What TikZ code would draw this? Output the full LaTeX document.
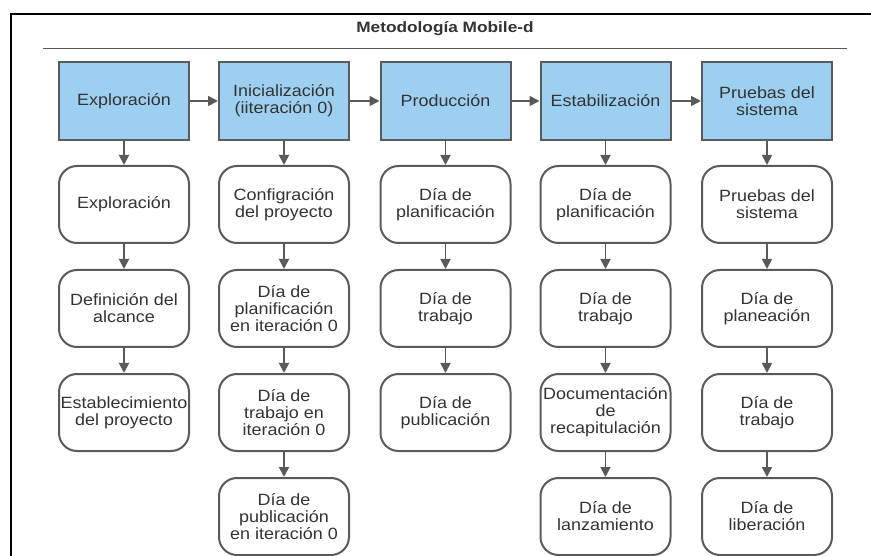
\documentclass[tikz,border=0pt]{standalone}
\usepackage{fontspec}
\setmainfont{Liberation Sans}[FakeStretch=1.1]
\newfontfamily\titlefont{Liberation Sans}[FakeStretch=1.15]
\usetikzlibrary{arrows.meta}
\definecolor{phasefill}{RGB}{157,207,241}
\definecolor{edgegray}{RGB}{90,90,90}
\definecolor{inkgray}{RGB}{51,51,51}
\tikzset{
  phase/.style={rectangle, draw=edgegray, fill=phasefill, line width=2pt,
    minimum width=130pt, minimum height=78pt, inner sep=0pt, align=center,
    text=inkgray, font=\fontsize{16.3}{17}\selectfont},
  task/.style={rectangle, rounded corners=18pt, draw=edgegray, fill=white, line width=2pt,
    minimum width=130pt, minimum height=77pt, inner sep=0pt, align=center,
    text=inkgray, font=\fontsize{16.3}{17}\selectfont},
  flow/.style={draw=edgegray, line width=1.8pt,
    -{Triangle[length=10pt,width=10pt]}}
}
\begin{document}
\begin{tikzpicture}[x=1pt,y=-1pt]
  \useasboundingbox (0,0) rectangle (871,556);
  % outer frame (top and left edges)
  \draw[black, line width=2.4pt] (11,556) -- (11,13.8) -- (871,13.8);
  % title and rule
  \node[font=\titlefont\bfseries\fontsize{15}{17}\selectfont, text=inkgray] (title) at (445,29) {Metodología Mobile-d};
  \draw[edgegray, line width=1pt] (43,49) -- (847,49);

  % phase headers
  \node[phase] (p1) at (124,101) {Exploración};
  \node[phase] (p2) at (284,101) {Inicialización\\(iiteración 0)};
  \node[phase] (p3) at (445.5,101) {Producción};
  \node[phase] (p4) at (605.5,101) {Estabilización};
  \node[phase] (p5) at (767,101) {Pruebas del\\sistema};

  % column 1
  \node[task] (a1) at (124,204.5) {Exploración};
  \node[task] (a2) at (124,308.5) {Definición del\\alcance};
  \node[task] (a3) at (124,412.5) {Establecimiento\\del proyecto};
  % column 2
  \node[task] (b1) at (284,204.5) {Configración\\del proyecto};
  \node[task] (b2) at (284,308.5) {Día de\\planificación\\en iteración 0};
  \node[task] (b3) at (284,412.5) {Día de\\trabajo en\\iteración 0};
  \node[task] (b4) at (284,516.5) {Día de\\publicación\\en iteración 0};
  % column 3
  \node[task] (c1) at (445.5,204.5) {Día de\\planificación};
  \node[task] (c2) at (445.5,308.5) {Día de\\trabajo};
  \node[task] (c3) at (445.5,412.5) {Día de\\publicación};
  % column 4
  \node[task] (d1) at (605.5,204.5) {Día de\\planificación};
  \node[task] (d2) at (605.5,308.5) {Día de\\trabajo};
  \node[task] (d3) at (605.5,412.5) {Documentación\\de\\recapitulación};
  \node[task] (d4) at (605.5,516.5) {Día de\\lanzamiento};
  % column 5
  \node[task] (e1) at (767,204.5) {Pruebas del\\sistema};
  \node[task] (e2) at (767,308.5) {Día de\\planeación};
  \node[task] (e3) at (767,412.5) {Día de\\trabajo};
  \node[task] (e4) at (767,516.5) {Día de\\liberación};

  % phase-to-phase arrows
  \draw[flow] (p1) -- (p2);
  \draw[flow] (p2) -- (p3);
  \draw[flow] (p3) -- (p4);
  \draw[flow] (p4) -- (p5);

  % downward arrows
  \draw[flow] (p1) -- (a1);
  \draw[flow] (a1) -- (a2);
  \draw[flow] (a2) -- (a3);
  \draw[flow] (p2) -- (b1);
  \draw[flow] (b1) -- (b2);
  \draw[flow] (b2) -- (b3);
  \draw[flow] (b3) -- (b4);
  \draw[flow] (p3) -- (c1);
  \draw[flow] (c1) -- (c2);
  \draw[flow] (c2) -- (c3);
  \draw[flow] (p4) -- (d1);
  \draw[flow] (d1) -- (d2);
  \draw[flow] (d2) -- (d3);
  \draw[flow] (d3) -- (d4);
  \draw[flow] (p5) -- (e1);
  \draw[flow] (e1) -- (e2);
  \draw[flow] (e2) -- (e3);
  \draw[flow] (e3) -- (e4);
\end{tikzpicture}
\end{document}
